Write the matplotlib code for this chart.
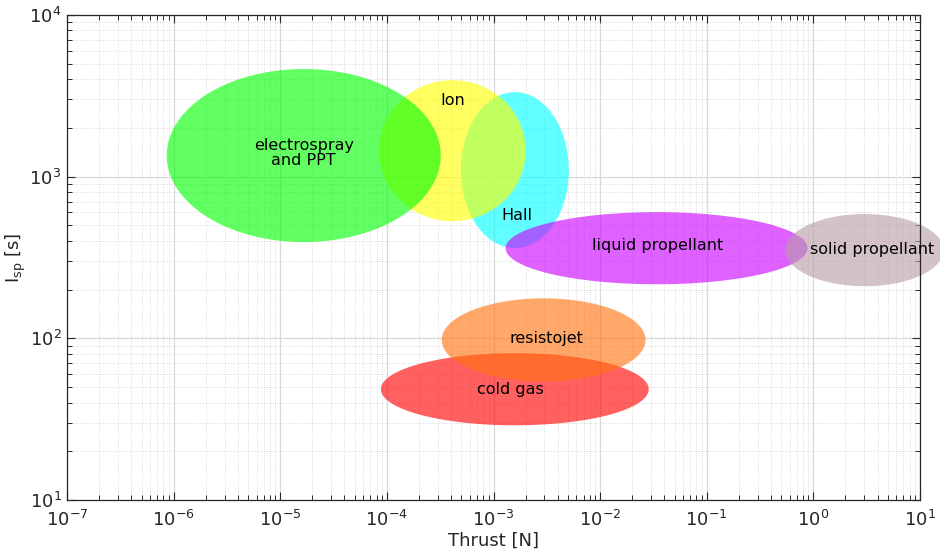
import numpy as np
import matplotlib
matplotlib.use('Agg')
import matplotlib.pyplot as plt

# thruster regions, in log10 units: centre thrust, centre Isp, half-widths
names = ['Hall', 'Ion', 'electrospray\nand PPT', 'liquid propellant',
         'solid propellant', 'cold gas', 'resistojet']
log_thrust_c = [-2.80, -3.385, -4.78, -1.47, 0.48, -2.80, -2.53]
log_isp_c = [3.04, 3.16, 3.13, 2.557, 2.545, 1.685, 1.99]
log_thrust_hw = [0.506, 0.687, 1.285, 1.416, 0.74, 1.256, 0.956]
log_isp_hw = [0.482, 0.436, 0.535, 0.223, 0.223, 0.223, 0.257]
colors = [(0, 1, 1), (1, 1, 0), (0, 1, 0), (0.8, 0, 1),
          (0.72, 0.62, 0.66), (1, 0, 0), (1, 0.45, 0.05)]

# label positions (log10 thrust, log10 Isp)
label_x = [-2.78, -3.385, -4.78, -1.458, 0.548, -2.846, -2.50]
label_y = [2.761, 3.472, 3.145, 2.576, 2.551, 1.685, 2.0]

fig = plt.figure(figsize=(9.4, 5.59), dpi=100)
ax = fig.add_axes([0.0713, 0.1055, 0.9074, 0.868])
ax.set_xscale('log')
ax.set_yscale('log')
ax.set_xlim(1e-7, 1e1)
ax.set_ylim(1e1, 1e4)

t = np.linspace(0, 2 * np.pi, 300)
for i in range(len(names)):
    xs = 10 ** (log_thrust_c[i] + log_thrust_hw[i] * np.cos(t))
    ys = 10 ** (log_isp_c[i] + log_isp_hw[i] * np.sin(t))
    ax.fill(xs, ys, color=colors[i], alpha=0.62, lw=0, clip_on=False, zorder=2)

for i in range(len(names)):
    ax.text(10 ** label_x[i], 10 ** label_y[i], names[i], ha='center', va='center',
            fontsize=11.5, zorder=5, linespacing=1.0)

ax.grid(True, which='major', color='#d8d8d8', lw=0.9, zorder=0)
ax.grid(True, which='minor', color='#d0d0d0', lw=0.6, ls=':', zorder=0)
ax.set_axisbelow(True)
ax.set_xticks([10.0 ** k for k in range(-7, 2)])
ax.set_yticks([10.0 ** k for k in range(1, 5)])
ax.tick_params(which='both', direction='in', top=True, right=True, colors='#262626',
               labelsize=13)
ax.tick_params(axis='x', which='major', pad=7)
ax.tick_params(axis='y', which='major', pad=4)
ax.tick_params(which='major', length=6, width=0.8)
ax.tick_params(which='minor', length=3.5, width=0.7)
for s in ax.spines.values():
    s.set_color('#262626')
    s.set_linewidth(0.9)

ax.set_xlabel('Thrust [N]', fontsize=13, color='#262626', labelpad=1)
ax.set_ylabel(r'I$_{\rm sp}$ [s]', fontsize=13, color='#262626', labelpad=1)

plt.savefig('out.png', dpi=100)
